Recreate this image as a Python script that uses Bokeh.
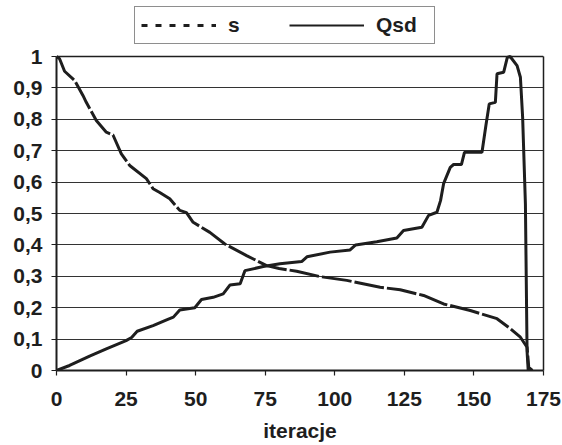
from bokeh.plotting import figure
from bokeh.models import (Range1d, FixedTicker, CustomJSTickFormatter, Legend, LegendItem,
                          LinearAxis, Span)
from bokeh.embed import file_html
from bokeh.resources import INLINE

# Data
s_x = [0, 1.1, 2.9, 6.5, 9.5, 10.7, 14.3, 17.9, 20.3, 23.3, 26.3, 32.3, 34.7, 37.1,
       40.7, 44.3, 46.7, 49.1, 55.1, 60.5, 68.3, 75.5, 80, 86.3, 94.7, 104.3, 116.3,
       123.5, 131.9, 139.1, 148.7, 158.3, 163.1, 166.7, 169.1, 169.7, 171]
s_y = [1.0, 0.993, 0.953, 0.924, 0.876, 0.854, 0.796, 0.759, 0.75, 0.69, 0.653, 0.611,
       0.579, 0.567, 0.547, 0.51, 0.503, 0.472, 0.44, 0.403, 0.366, 0.334, 0.325, 0.316,
       0.299, 0.287, 0.265, 0.257, 0.239, 0.212, 0.191, 0.165, 0.133, 0.106, 0.074,
       0.01, 0.0]

qsd_x = [0, 4.7, 11.9, 17.9, 25, 27, 29, 34.7, 40, 42, 44.3, 49.7, 52.1, 56.3, 59.9,
         62.3, 66, 67.7, 74.3, 80.3, 88.1, 90, 98.3, 105.5, 107.5, 115.1, 122.3, 124.7,
         131.3, 133.7, 136.7, 138, 139.1, 141.5, 142.7, 145.5, 146.6, 152.9, 154.3,
         155.5, 157.7, 158.3, 160.7, 162, 163, 165.5, 166.7, 167.5, 168.5, 169.1, 169.5]
qsd_y = [0, 0.016, 0.046, 0.069, 0.095, 0.105, 0.125, 0.143, 0.163, 0.17, 0.193, 0.2,
         0.226, 0.233, 0.244, 0.272, 0.276, 0.318, 0.331, 0.34, 0.347, 0.362, 0.377,
         0.384, 0.4, 0.41, 0.422, 0.446, 0.456, 0.494, 0.504, 0.541, 0.595, 0.647,
         0.656, 0.656, 0.695, 0.695, 0.78, 0.849, 0.854, 0.945, 0.95, 0.997, 1.0,
         0.971, 0.934, 0.807, 0.53, 0.06, 0.0]

x_ticks = [0, 25, 50, 75, 100, 125, 150, 175]
y_ticks = [0, 0.1, 0.2, 0.3, 0.4, 0.5, 0.6, 0.7, 0.8, 0.9, 1.0]
series_names = ["s", "Qsd"]
x_label = "iteracje"

FONT = "Liberation Sans"
FS = "21px"
INK = "#1e1e1e"

# frame spans from the top of the page (room for the legend) down to y = 0;
# the data area (0..1) occupies the lower 314 px of the 370 px frame
Y_TOP = 370 / 314

p = figure(width=562, height=445, x_range=Range1d(0, 175), y_range=Range1d(0, Y_TOP),
           output_backend="svg", toolbar_location=None,
           min_border_left=56, min_border_right=19, min_border_top=0, min_border_bottom=75)

p.background_fill_color = "white"
p.border_fill_color = "white"
p.outline_line_color = None

p.xgrid.grid_line_color = None
p.ygrid.grid_line_color = "#333333"
p.ygrid.grid_line_width = 1

p.xaxis.ticker = FixedTicker(ticks=x_ticks)
p.yaxis.ticker = FixedTicker(ticks=y_ticks)
p.yaxis.bounds = (0, 1)
p.yaxis.formatter = CustomJSTickFormatter(
    code="var v = Math.round(tick*10)/10; return v.toString().replace('.', ',');")

for ax in (p.xaxis, p.yaxis):
    ax.axis_line_color = INK
    ax.axis_line_width = 2
    ax.major_tick_line_color = INK
    ax.major_tick_line_width = 1.2
    ax.major_tick_out = 5
    ax.major_tick_in = 0
    ax.minor_tick_line_color = None
    ax.major_label_text_font = FONT
    ax.major_label_text_font_size = FS
    ax.major_label_text_font_style = "bold"
    ax.major_label_text_color = INK

p.yaxis.major_label_standoff = 9
p.xaxis.major_label_standoff = 16
p.xaxis.axis_label = x_label
p.xaxis.axis_label_text_font = FONT
p.xaxis.axis_label_text_font_size = FS
p.xaxis.axis_label_text_font_style = "bold"
p.xaxis.axis_label_text_color = INK
p.xaxis.axis_label_standoff = 10

# right border of the plot box (0..1 only)
right = LinearAxis(bounds=(0, 1), ticker=FixedTicker(ticks=[]),
                   major_label_text_font_size="0px", major_tick_line_color=None,
                   minor_tick_line_color=None, axis_line_color=INK, axis_line_width=1.5)
p.add_layout(right, "right")
# top border of the plot box at y = 1
p.add_layout(Span(location=1, dimension="width", line_color=INK, line_width=1.5))

p.line(s_x, s_y, line_color=INK, line_width=3, line_dash="30 3")
p.line(qsd_x, qsd_y, line_color=INK, line_width=3)

# legend sample glyphs (no data drawn)
nan = float("nan")
leg_s = p.line([nan], [nan], line_color=INK, line_width=3, line_dash="6 8")
leg_q = p.line([nan], [nan], line_color=INK, line_width=2)
legend = Legend(items=[LegendItem(label=series_names[0], renderers=[leg_s]),
                       LegendItem(label=series_names[1], renderers=[leg_q])],
                location=(78, 326), orientation="horizontal",
                glyph_width=75, label_standoff=12, spacing=9, label_width=52,
                padding=6, margin=0,
                border_line_color=INK, border_line_width=1.2,
                background_fill_color="white", background_fill_alpha=1,
                label_text_font=FONT, label_text_font_size=FS,
                label_text_font_style="bold", label_text_color=INK)
p.add_layout(legend)

open("out.html", "w").write(file_html(p, INLINE))
